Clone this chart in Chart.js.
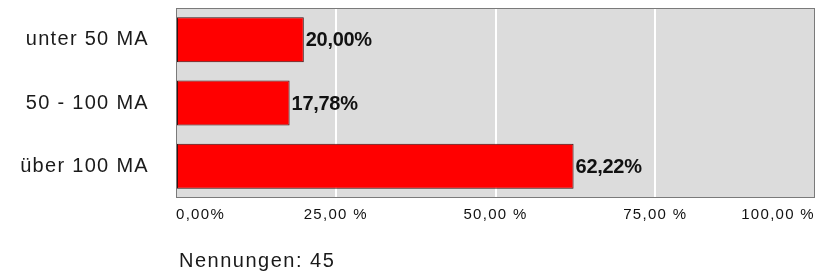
<!DOCTYPE html>
<html>
<head>
<meta charset="utf-8">
<script src="https://cdn.jsdelivr.net/npm/chart.js@4"></script>
<style>
  html, body { margin: 0; padding: 0; background: #fff; }
  #wrap { width: 816px; height: 276px; }
</style>
</head>
<body>
<div id="wrap"><canvas id="c"></canvas></div>
<script>
// data
const categories = ['unter 50 MA', '50 - 100 MA', 'über 100 MA'];
const shares = [20.00, 17.78, 62.22];
const xTicks = [0, 25, 50, 75, 100];
const footNote = 'Nennungen: 45';

const FONT = '"Liberation Sans", Arial, sans-serif';
const fmtPct = v => v.toFixed(2).replace('.', ',') + '%';
const fmtTick = v => v === 0 ? '0,00%' : v.toFixed(2).replace('.', ',') + ' %';

// wide-ish letter spacing like the original rendering
const spacing = {
  id: 'spacing',
  beforeUpdate(chart) { chart.ctx.letterSpacing = '1.3px'; },
  beforeDraw(chart) { chart.ctx.letterSpacing = '1.3px'; }
};

// plot background + frame + footnote
const plotBg = {
  id: 'plotBg',
  beforeDraw(chart) {
    const { ctx, chartArea: a } = chart;
    ctx.save();
    ctx.fillStyle = '#DCDCDC';
    ctx.fillRect(a.left, a.top, a.right - a.left, a.bottom - a.top);
    ctx.restore();
  },
  afterDraw(chart) {
    const { ctx, chartArea: a } = chart;
    ctx.save();
    ctx.strokeStyle = '#7a7a7a';
    ctx.lineWidth = 1;
    ctx.strokeRect(a.left + 0.5, a.top + 0.5, a.right - a.left - 1, a.bottom - a.top - 1);
    ctx.fillStyle = '#1a1a1a';
    ctx.font = '20px ' + FONT;
    ctx.letterSpacing = '1.5px';
    ctx.textBaseline = 'middle';
    ctx.textAlign = 'left';
    ctx.fillText(footNote, a.left + 3, 261);
    ctx.restore();
  }
};

// value labels at bar end
const valueLabels = {
  id: 'valueLabels',
  afterDatasetsDraw(chart) {
    const { ctx } = chart;
    const meta = chart.getDatasetMeta(0);
    ctx.save();
    ctx.letterSpacing = '-0.3px';
    ctx.font = 'bold 20px ' + FONT;
    ctx.fillStyle = '#111';
    ctx.textBaseline = 'middle';
    ctx.textAlign = 'left';
    meta.data.forEach((bar, i) => {
      ctx.fillText(fmtPct(shares[i]), bar.x + 2, bar.y + 1);
    });
    ctx.restore();
  }
};

const noPad = axis => {
  axis.paddingTop = 0; axis.paddingBottom = 0;
  axis.paddingLeft = 0; axis.paddingRight = 0;
};

new Chart(document.getElementById('c'), {
  type: 'bar',
  data: {
    labels: categories,
    datasets: [{
      data: shares,
      backgroundColor: '#FF0000',
      borderColor: '#3a1010',
      borderWidth: 1,
      borderSkipped: false,
      categoryPercentage: 1,
      barPercentage: 0.71
    }]
  },
  options: {
    indexAxis: 'y',
    responsive: true,
    maintainAspectRatio: false,
    animation: false,
    layout: { padding: { top: 8, right: 1, left: 0, bottom: 0 } },
    plugins: { legend: { display: false }, tooltip: { enabled: false } },
    scales: {
      x: {
        min: 0, max: 100,
        afterBuildTicks: axis => { axis.ticks = xTicks.map(v => ({ value: v })); },
        afterFit: axis => { axis.height = 78; noPad(axis); },
        grid: {
          color: ctx => (ctx.tick && (ctx.tick.value === 0 || ctx.tick.value === 100)) ? 'rgba(0,0,0,0)' : '#ffffff',
          lineWidth: 2,
          drawTicks: false
        },
        border: { display: false },
        ticks: {
          align: 'inner',
          maxRotation: 0,
          autoSkip: false,
          padding: 8,
          color: '#111',
          font: { family: FONT, size: 15 },
          callback: v => fmtTick(v)
        }
      },
      y: {
        afterFit: axis => { axis.width = 176; noPad(axis); },
        grid: { display: false, drawTicks: false },
        border: { display: false },
        ticks: {
          padding: 27,
          color: '#1a1a1a',
          font: { family: FONT, size: 20 }
        }
      }
    }
  },
  plugins: [spacing, plotBg, valueLabels]
});
</script>
</body>
</html>
